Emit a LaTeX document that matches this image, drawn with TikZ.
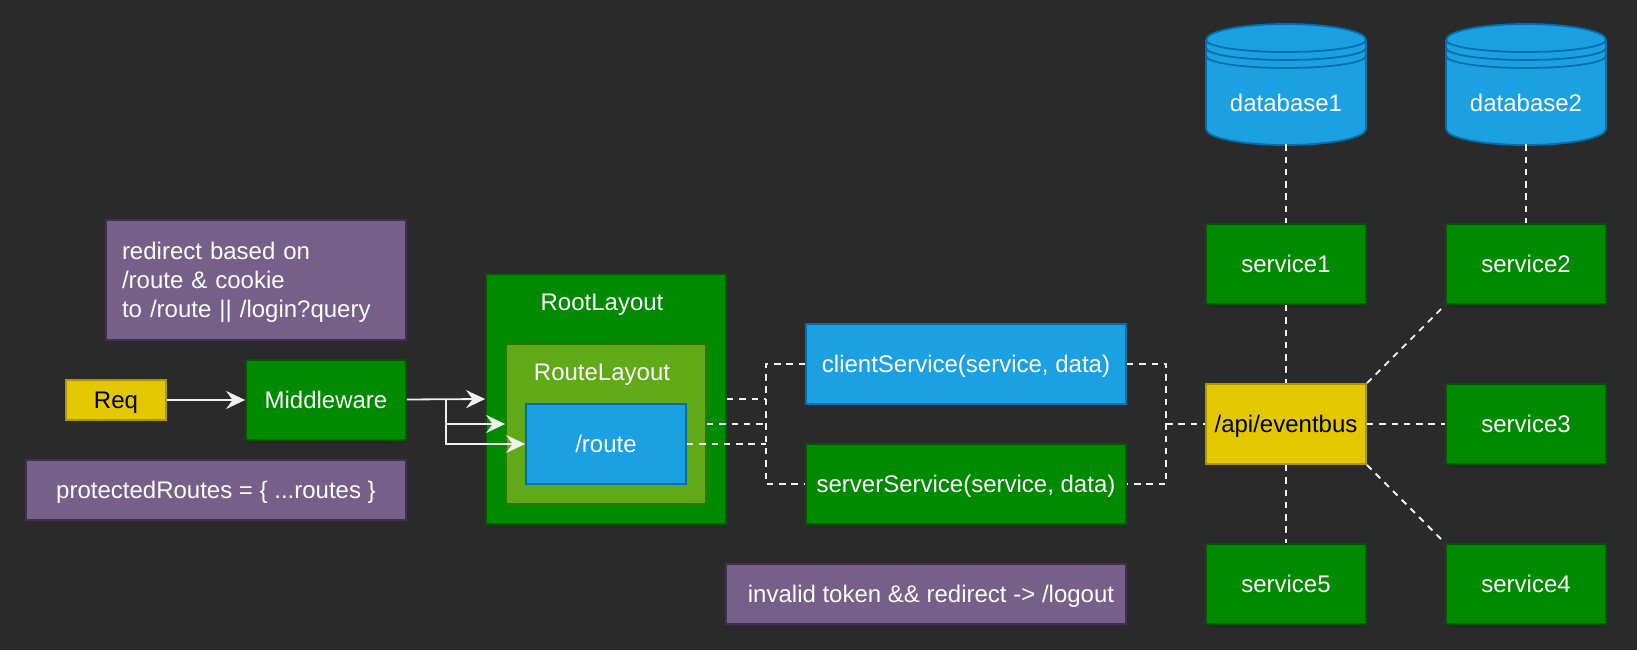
\documentclass[tikz,border=0pt]{standalone}
\usepackage{fontspec}
\setmainfont{Liberation Sans}
\usepackage{tikz}
\usetikzlibrary{arrows.meta,positioning,calc}
\definecolor{bgcol}{HTML}{2A2A2A}
\definecolor{greenfill}{HTML}{008A00}
\definecolor{greenline}{HTML}{005700}
\definecolor{bluefill}{HTML}{1BA1E2}
\definecolor{blueline}{HTML}{006EAF}
\definecolor{yellowfill}{HTML}{E3C800}
\definecolor{yellowline}{HTML}{B09500}
\definecolor{purplefill}{HTML}{76608A}
\definecolor{purpleline}{HTML}{432D57}
\definecolor{olivefill}{HTML}{60A917}
\definecolor{oliveline}{HTML}{2D7600}
\definecolor{edgecol}{HTML}{F0F0F0}
\tikzset{
block/.style = {draw, rectangle, line width=1.8pt, align=center, inner sep=0pt, minimum width=160pt, minimum height=80pt, text=white, text height=17.3pt, text depth=0pt},
greenblock/.style = {block, draw=greenline, fill=greenfill},
blueblock/.style = {block, draw=blueline, fill=bluefill},
yellowblock/.style = {block, draw=yellowline, fill=yellowfill, text=black},
noteblock/.style = {block, draw=purpleline, fill=purplefill, minimum height=60pt},
layoutlabel/.style = {text=white, inner sep=0pt, text height=17.3pt, text depth=0pt, xshift=-4pt},
store/.style = {rectangle, text=white, inner sep=0pt, minimum width=160pt, minimum height=120pt, text height=55.3pt, text depth=0pt},
rim/.style = {draw=blueline, line width=1.8pt},
flow/.style = {draw=edgecol, line width=1.8pt, ->},
link/.style = {draw=edgecol, line width=1.8pt, dash pattern=on 6.5pt off 5.8pt}
}
\begin{document}
\begin{tikzpicture}[x=1pt, y=1pt, every node/.style={font=\fontsize{24pt}{28.8pt}\selectfont}, >={Stealth[length=19pt, width=18pt, inset=6.5pt]}]
    \fill[bgcol] (0,0) rectangle (1637,-650);
    \useasboundingbox (0,0) rectangle (1637,-650);

    \node[greenblock] (svc1) at (1286,-264) {service1};
    \node[greenblock, node distance=240pt, right of = svc1] (svc2) {service2};
    \node[yellowblock, node distance=160pt, below of = svc1] (bus) {/api/eventbus};
    \node[greenblock, node distance=240pt, right of = bus] (svc3) {service3};
    \node[greenblock, node distance=160pt, below of = bus] (svc5) {service5};
    \node[greenblock, node distance=240pt, right of = svc5] (svc4) {service4};

    \foreach \n in {svc1,svc2} {
        \coordinate (dbtop) at ($(\n)+(-80,224)$);
        \draw[rim, fill=bluefill] (dbtop) arc[start angle=180, end angle=0, x radius=80, y radius=16] -- ++(0,-89) arc[start angle=0, end angle=-180, x radius=80, y radius=16] -- cycle;
        \foreach \s in {0,8,16} {
            \draw[rim] ($(dbtop)+(0,-\s)$) arc[start angle=180, end angle=360, x radius=80, y radius=12];
        }
    }
    \node[store, node distance=180pt, above of = svc1] (db1) {database1};
    \node[store, node distance=180pt, above of = svc2] (db2) {database2};

    \node[blueblock, minimum width=320pt] (cli) at (966,-364) {clientService(service, data)};
    \node[greenblock, minimum width=320pt, node distance=120pt, below of = cli] (srv) {serverService(service, data)};
    \node[noteblock, minimum width=400pt] (note3) at (926,-594) {\hspace*{10pt}invalid token \&\& redirect -> /logout};

    \node[greenblock, minimum width=240pt, minimum height=250pt] (root) at (606,-399) {};
    \node[block, draw=oliveline, fill=olivefill, minimum width=200pt, minimum height=160pt] (rlayout) at (606,-424) {};
    \node[blueblock] (route) at (606,-444) {/route};
    \node[layoutlabel, below=20pt of root.north] (rootlbl) {RootLayout};
    \node[layoutlabel, below=20pt of rlayout.north] (rlayoutlbl) {RouteLayout};

    \node[greenblock] (mw) at (326,-400) {Middleware};
    \node[yellowblock, minimum width=100pt, minimum height=40pt, node distance=210pt, left of = mw] (req) {Req};
    \node[noteblock, minimum width=300pt, minimum height=120pt, align=left, text width=268pt, text height=0pt, text depth=40.3pt] (note1) at (256,-280) {redirect based on\\/route \& cookie\\to /route || /login?query};
    \node[noteblock, minimum width=380pt] (note2) at (216,-490) {protectedRoutes = \{ ...routes \}};

    \coordinate (jn) at (446,-400);
    \coordinate (hub) at (766,-424);
    \coordinate (busin) at (1166,-424);

    \draw[flow] (req) -- (mw);
    \draw[flow] (mw) -- (root.west);
    \draw[flow] (jn) |- (rlayout.west);
    \draw[flow] (jn) |- (route.west);

    \draw[link] (root.east) -- (root.east -| hub);
    \draw[link] (rlayout.east) -- (rlayout.east -| hub);
    \draw[link] (route.east) -- (route.east -| hub);
    \draw[link] (cli.west) -| (hub) |- (srv.west);
    \draw[link] (cli.east) -| (busin) |- (srv.east);
    \draw[link] (busin) -- (bus.west);
    \draw[link] (db1) -- (svc1);
    \draw[link] (db2) -- (svc2);
    \draw[link] (svc1) -- (bus);
    \draw[link] (bus) -- (svc5);
    \draw[link] (bus) -- (svc3);
    \draw[link] (bus.north east) -- (svc2.south west);
    \draw[link] (bus.south east) -- (svc4.north west);
\end{tikzpicture}
\end{document}
